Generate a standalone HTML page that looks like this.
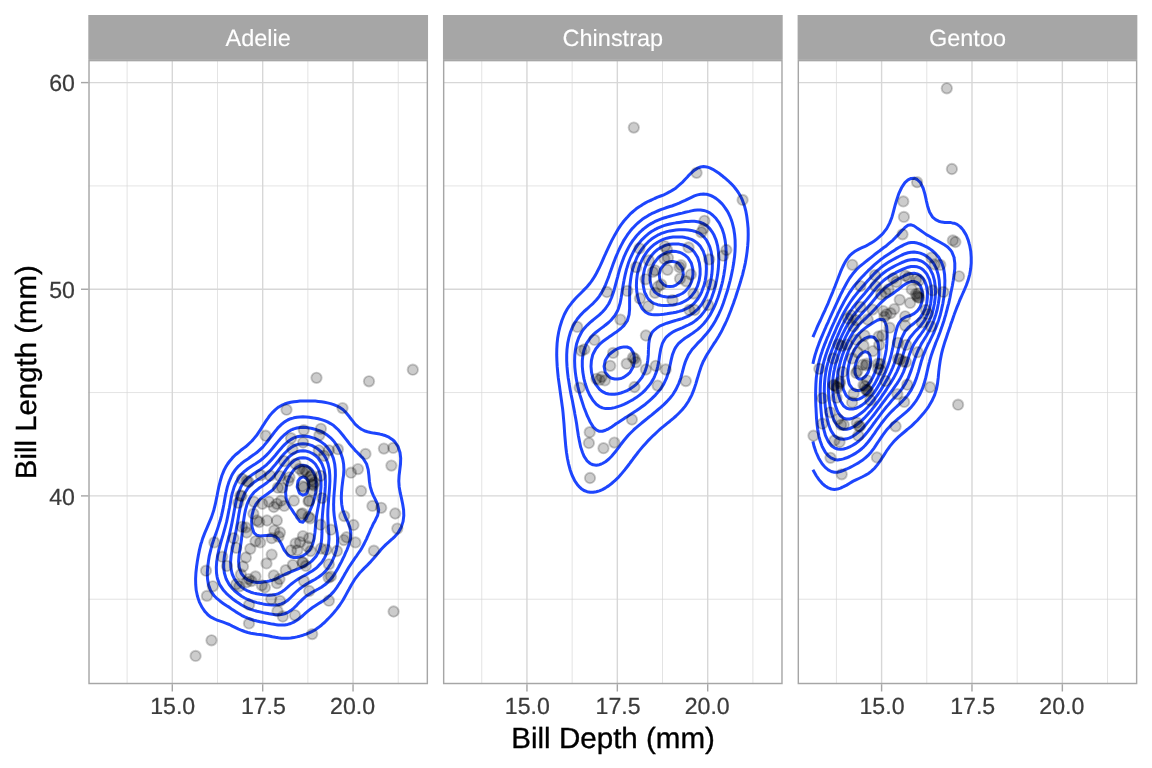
<!DOCTYPE html><html><head><meta charset="utf-8"><title>Penguins</title><style>html,body{margin:0;padding:0;background:#fff}body{width:1152px;height:768px;overflow:hidden}svg{display:block;will-change:transform}text{font-family:"Liberation Sans",sans-serif;text-rendering:geometricPrecision}</style></head><body><svg width="1152" height="768" viewBox="0 0 1152 768">
<rect width="1152" height="768" fill="#fff"/>
<clipPath id="c0"><rect x="88.3" y="59.9" width="339.75" height="624.3000000000001"/></clipPath>
<g clip-path="url(#c0)">
<path d="M127.11 59.9V684.2M217.49 59.9V684.2M307.86 59.9V684.2M398.24 59.9V684.2M88.3 599.23H428.05M88.3 392.57H428.05M88.3 185.92H428.05" stroke="#d7d7d7" stroke-width="0.71" fill="none"/>
<path d="M172.30 59.9V684.2M262.68 59.9V684.2M353.05 59.9V684.2M88.3 495.90H428.05M88.3 289.25H428.05M88.3 82.60H428.05" stroke="#d7d7d7" stroke-width="1.42" fill="none"/>
<path d="M270.2 636.2L272.3 636.7L275.4 637.3L278.4 637.8L281.5 638.2L284.6 638.3L287.7 638.3L290.7 638.1L293.8 637.6L296.9 636.9L299.6 636.2L299.9 636.1L303.0 635.2L306.1 634.1L309.1 632.9L312.2 631.4L313.9 630.5L315.3 629.7L318.3 627.6L321.4 625.2L321.9 624.7L324.5 622.5L327.5 619.4L327.9 619.0L330.6 616.3L333.3 613.2L333.7 612.8L336.7 609.1L337.9 607.5L339.8 605.0L341.9 601.8L342.9 600.2L345.3 596.0L345.9 594.9L348.4 590.3L349.0 589.3L351.6 584.5L352.1 583.7L355.1 578.8L355.1 578.8L358.2 574.8L359.6 573.0L361.3 571.3L364.3 568.1L365.1 567.3L367.4 565.1L370.5 561.9L370.8 561.6L373.5 558.6L375.9 555.8L376.6 554.9L379.7 551.2L380.6 550.1L382.7 547.8L385.8 544.6L386.1 544.3L388.9 541.9L391.9 539.2L392.6 538.6L395.0 536.3L398.0 532.9L398.1 532.7L401.1 527.5L401.3 527.1L403.1 521.4L403.8 515.6L403.6 509.9L402.7 504.2L401.5 498.4L401.1 496.7L400.2 492.7L399.2 486.9L398.8 481.2L399.1 475.5L399.8 469.7L400.5 464.0L400.7 458.2L400.0 452.5L398.1 446.8L398.1 446.6L395.0 442.0L394.1 441.0L391.9 439.2L388.9 437.2L385.8 435.8L384.2 435.3L382.7 434.8L379.7 434.1L376.6 433.6L373.5 433.1L370.5 432.5L367.4 431.7L364.3 430.7L361.9 429.5L361.3 429.2L358.2 426.9L355.1 424.1L354.9 423.8L352.1 420.2L350.3 418.1L349.0 416.2L345.9 412.5L345.7 412.3L342.9 409.5L339.8 407.4L338.2 406.6L336.7 405.8L333.7 404.6L330.6 403.6L327.5 402.9L324.5 402.3L321.4 401.8L318.3 401.4L315.3 401.1L312.2 400.9L309.1 400.9L306.1 400.9L303.0 401.0L299.9 401.1L296.9 401.4L293.8 401.7L290.7 402.2L287.7 403.0L284.6 404.0L281.5 405.4L279.6 406.6L278.4 407.2L275.4 409.6L272.6 412.3L272.3 412.6L269.2 416.3L268.0 418.1L266.2 420.6L264.2 423.8L263.1 425.4L260.6 429.5L260.0 430.3L257.0 434.9L256.7 435.3L253.9 438.6L251.9 441.0L250.8 442.0L247.8 444.8L245.6 446.8L244.7 447.4L241.6 449.7L238.6 452.3L238.4 452.5L235.5 454.8L232.4 457.9L232.2 458.2L229.4 461.5L227.6 464.0L226.3 466.1L224.3 469.7L223.2 472.3L221.9 475.5L220.2 481.2L220.2 481.4L218.8 486.9L217.6 492.7L217.1 495.6L216.5 498.4L215.3 504.2L214.0 509.3L213.9 509.9L212.0 515.6L211.0 518.4L209.7 521.4L207.9 525.7L207.3 527.1L204.8 532.9L204.8 532.9L202.6 538.6L201.8 541.4L200.8 544.3L199.4 550.1L198.7 553.8L198.3 555.8L197.3 561.6L196.5 567.3L195.9 573.0L195.6 578.7L195.6 578.8L195.6 579.4L195.7 584.5L196.2 590.3L197.4 596.0L198.7 600.1L199.3 601.8L201.8 606.8L202.2 607.5L204.8 611.4L206.6 613.2L207.9 614.8L211.0 617.2L214.0 618.7L214.7 619.0L217.1 620.1L220.2 621.1L223.2 622.2L226.3 623.3L229.4 624.5L229.8 624.7L232.4 626.1L235.5 627.6L238.6 629.1L241.6 630.3L242.1 630.5L244.7 631.5L247.8 632.5L250.8 633.2L253.9 633.7L257.0 634.2L260.0 634.6L263.1 635.0L266.2 635.5L269.2 636.0ZM276.2 624.7L278.4 625.0L281.5 625.1L284.6 625.0L286.0 624.7L287.7 624.4L290.7 623.5L293.8 622.1L296.9 620.3L298.7 619.0L299.9 618.0L303.0 615.5L305.5 613.2L306.1 612.7L309.1 610.1L312.2 607.7L312.5 607.5L315.3 605.7L318.3 603.8L321.4 601.9L321.6 601.8L324.5 600.0L327.5 597.7L329.3 596.0L330.6 594.9L333.7 591.6L334.7 590.3L336.7 587.6L338.7 584.5L339.8 582.9L342.2 578.8L342.9 577.6L345.4 573.0L345.9 572.2L348.8 567.3L349.0 567.0L352.1 562.3L352.6 561.6L355.1 557.9L356.7 555.8L358.2 553.5L360.6 550.1L361.3 548.9L363.9 544.3L364.3 543.4L366.7 538.6L367.4 536.8L369.2 532.9L370.5 529.7L371.8 527.1L373.5 523.3L374.8 521.4L376.6 517.4L377.6 515.6L378.7 509.9L377.5 504.2L376.6 502.2L374.8 498.4L373.5 495.8L372.1 492.7L370.5 487.5L370.3 486.9L369.4 481.2L368.9 475.5L368.2 469.7L367.4 466.8L366.6 464.0L364.3 460.3L363.0 458.2L361.3 456.6L358.2 453.4L357.4 452.5L355.1 450.3L352.1 446.8L352.0 446.8L349.0 443.2L347.4 441.0L345.9 439.1L342.9 435.3L342.9 435.2L339.8 431.5L338.0 429.5L336.7 428.3L333.7 425.6L330.9 423.8L330.6 423.6L327.5 421.9L324.5 420.6L321.4 419.6L318.3 418.8L315.3 418.2L314.3 418.1L312.2 417.7L309.1 417.2L306.1 416.9L303.0 416.8L299.9 416.9L296.9 417.2L293.8 417.8L292.9 418.1L290.7 418.7L287.7 420.0L284.6 421.9L282.2 423.8L281.5 424.3L278.4 427.3L276.6 429.5L275.4 430.9L272.3 435.0L272.1 435.3L269.2 439.0L267.7 441.0L266.2 442.9L263.1 446.6L263.0 446.8L260.0 449.6L257.0 452.4L256.8 452.5L253.9 454.6L250.8 456.7L248.8 458.2L247.8 458.9L244.7 460.9L241.6 463.4L240.9 464.0L238.6 466.1L235.5 469.6L235.4 469.7L232.4 474.2L231.7 475.5L229.4 480.8L229.2 481.2L227.4 486.9L226.3 491.6L226.0 492.7L224.9 498.4L223.9 504.2L223.2 507.7L222.8 509.9L221.5 515.6L220.2 520.6L219.9 521.4L218.1 527.1L217.1 530.1L216.1 532.9L214.1 538.6L214.0 538.9L212.2 544.3L211.0 549.0L210.7 550.1L209.3 555.8L208.4 561.6L207.9 565.5L207.7 567.3L207.3 573.0L207.5 578.8L207.9 581.3L208.4 584.5L210.5 590.3L211.0 591.1L214.0 595.6L214.4 596.0L217.1 598.7L220.2 601.2L220.9 601.8L223.2 603.4L226.3 605.5L229.4 607.4L229.5 607.5L232.4 609.6L235.5 611.6L238.2 613.2L238.6 613.5L241.6 615.3L244.7 616.9L247.8 618.2L250.1 619.0L250.8 619.3L253.9 620.2L257.0 621.0L260.0 621.7L263.1 622.3L266.2 622.9L269.2 623.5L272.3 624.1L275.4 624.6ZM266.4 613.2L269.2 613.8L272.3 614.3L275.4 614.7L278.4 614.7L281.5 614.5L284.6 613.8L286.0 613.2L287.7 612.5L290.7 610.6L293.8 608.1L294.4 607.5L296.9 605.1L299.9 601.8L300.0 601.8L303.0 598.9L306.1 596.2L306.3 596.0L309.1 594.2L312.2 592.3L315.3 590.6L315.9 590.3L318.3 589.0L321.4 587.2L324.5 585.1L325.2 584.5L327.5 582.5L330.6 579.3L331.0 578.8L333.7 575.3L335.1 573.0L336.7 570.4L338.5 567.3L339.8 564.8L341.5 561.6L342.9 558.6L344.3 555.8L345.9 552.0L346.9 550.1L349.0 544.4L349.0 544.3L350.5 538.6L350.8 532.9L349.8 527.1L349.0 525.0L347.6 521.4L345.9 518.2L344.9 515.6L342.9 510.4L342.7 509.9L341.7 504.2L341.3 498.4L341.5 492.7L342.0 486.9L342.7 481.2L342.9 479.5L343.5 475.5L343.9 469.7L343.6 464.0L342.9 460.1L342.5 458.2L340.6 452.5L339.8 450.9L337.7 446.8L336.7 445.3L333.7 441.0L333.6 441.0L330.6 437.8L327.6 435.3L327.5 435.2L324.5 433.2L321.4 431.6L318.3 430.4L315.8 429.5L315.3 429.4L312.2 428.5L309.1 427.9L306.1 427.5L303.0 427.3L299.9 427.5L296.9 428.0L293.8 428.9L292.3 429.5L290.7 430.2L287.7 432.1L284.6 434.6L283.9 435.3L281.5 437.6L278.5 441.0L278.4 441.1L275.4 444.8L273.8 446.8L272.3 448.6L269.2 452.2L269.0 452.5L266.2 455.4L263.2 458.2L263.1 458.3L260.0 460.7L257.0 462.8L255.2 464.0L253.9 464.8L250.8 466.7L247.8 468.8L246.6 469.7L244.7 471.2L241.6 474.2L240.5 475.5L238.6 478.1L236.7 481.2L235.5 483.8L234.2 486.9L232.5 492.7L232.4 492.7L231.1 498.4L230.1 504.2L229.4 508.0L229.0 509.9L227.9 515.6L226.7 521.4L226.3 523.0L225.2 527.1L223.6 532.9L223.2 534.3L221.9 538.6L220.3 544.3L220.2 544.8L218.8 550.1L217.6 555.8L217.1 559.1L216.7 561.6L216.3 567.3L216.5 573.0L217.1 576.8L217.5 578.8L219.6 584.5L220.2 585.4L223.2 589.9L223.5 590.3L226.3 593.3L229.2 596.0L229.4 596.1L232.4 598.7L235.5 601.0L236.6 601.8L238.6 603.1L241.6 605.0L244.7 606.7L246.5 607.5L247.8 608.1L250.8 609.4L253.9 610.4L257.0 611.2L260.0 611.9L263.1 612.6L266.2 613.2ZM253.9 601.8L253.9 601.8L257.0 602.6L260.0 603.3L263.1 603.9L266.2 604.4L269.2 604.8L272.3 605.1L275.4 605.1L278.4 604.7L281.5 603.9L284.6 602.4L285.6 601.8L287.7 600.3L290.7 597.5L292.2 596.0L293.8 594.4L296.9 591.3L298.0 590.3L299.9 588.7L303.0 586.4L305.8 584.5L306.1 584.3L309.1 582.6L312.2 580.9L315.3 579.2L315.9 578.8L318.3 577.3L321.4 575.0L323.6 573.0L324.5 572.2L327.5 568.7L328.5 567.3L330.6 564.0L332.0 561.6L333.7 557.7L334.5 555.8L336.3 550.1L336.7 547.6L337.4 544.3L337.6 538.6L337.1 532.9L336.7 530.9L336.1 527.1L335.0 521.4L334.2 515.6L333.7 509.9L333.7 507.5L333.6 504.2L333.7 502.8L333.8 498.4L334.2 492.7L334.7 486.9L335.1 481.2L335.4 475.5L335.3 469.7L334.7 464.0L333.7 459.6L333.3 458.2L330.9 452.5L330.6 452.0L327.5 447.6L326.8 446.8L324.5 444.4L321.4 442.1L319.7 441.0L318.3 440.2L315.3 438.7L312.2 437.6L309.1 436.8L306.1 436.3L303.0 436.1L299.9 436.3L296.9 436.8L293.8 437.9L290.7 439.6L288.8 441.0L287.7 441.8L284.6 444.6L282.5 446.8L281.5 447.9L278.4 451.5L277.6 452.5L275.4 455.2L272.8 458.2L272.3 458.9L269.2 462.1L267.3 464.0L266.2 465.1L263.1 467.5L260.0 469.7L260.0 469.7L257.0 471.6L253.9 473.6L251.1 475.5L250.8 475.6L247.8 478.1L244.7 481.2L244.7 481.2L241.6 485.6L240.9 486.9L238.6 492.4L238.5 492.7L236.8 498.4L235.5 504.1L235.5 504.2L234.4 509.9L233.4 515.6L232.4 520.7L232.3 521.4L231.1 527.1L229.8 532.9L229.4 534.7L228.4 538.6L226.9 544.3L226.3 547.0L225.6 550.1L224.5 555.8L223.8 561.6L223.7 567.3L224.4 573.0L226.1 578.8L226.3 579.3L229.2 584.5L229.4 584.8L232.4 588.5L234.1 590.3L235.5 591.5L238.6 594.0L241.3 596.0L241.6 596.2L244.7 598.0L247.8 599.5L250.8 600.7ZM246.5 590.3L247.8 590.9L250.8 592.2L253.9 593.1L257.0 593.8L260.0 594.3L263.1 594.7L266.2 595.0L269.2 595.2L272.3 595.1L275.4 594.6L278.4 593.6L281.5 592.0L284.0 590.3L284.6 589.8L287.7 587.2L290.7 584.5L290.7 584.5L293.8 582.1L296.9 579.9L298.6 578.8L299.9 578.0L303.0 576.3L306.1 574.6L308.8 573.0L309.1 572.8L312.2 571.0L315.3 568.8L317.1 567.3L318.3 566.1L321.4 562.7L322.3 561.6L324.5 557.9L325.6 555.8L327.5 550.2L327.6 550.1L328.6 544.3L329.0 538.6L328.8 532.9L328.3 527.1L328.0 521.4L327.8 515.6L327.9 509.9L328.3 504.2L328.7 498.4L329.2 492.7L329.6 486.9L329.9 481.2L329.8 475.5L329.3 469.7L328.1 464.0L327.5 462.3L325.9 458.2L324.5 455.9L321.9 452.5L321.4 452.0L318.3 449.3L315.3 447.3L314.3 446.8L312.2 445.7L309.1 444.6L306.1 444.0L303.0 443.7L299.9 443.9L296.9 444.6L293.8 445.9L292.3 446.8L290.7 447.8L287.7 450.2L285.4 452.5L284.6 453.3L281.5 456.8L280.4 458.2L278.4 460.7L275.8 464.0L275.4 464.5L272.3 468.1L270.8 469.7L269.2 471.3L266.2 474.0L264.1 475.5L263.1 476.2L260.0 478.3L257.0 480.2L255.5 481.2L253.9 482.4L250.8 485.0L248.9 486.9L247.8 488.3L245.0 492.7L244.7 493.3L242.6 498.4L241.6 501.5L240.9 504.2L239.7 509.9L238.6 515.6L238.6 516.0L237.7 521.4L236.7 527.1L235.7 532.9L235.5 533.6L234.5 538.6L233.3 544.3L232.4 548.4L232.1 550.1L231.1 555.8L230.6 561.6L230.8 567.3L231.9 573.0L232.4 574.5L234.4 578.8L235.5 580.5L238.6 584.4L238.7 584.5L241.6 587.1L244.7 589.3ZM246.0 578.8L247.8 579.9L250.8 581.2L253.9 582.0L257.0 582.4L260.0 582.4L263.1 582.1L266.2 581.6L269.2 581.0L272.3 580.2L275.4 579.1L276.2 578.8L278.4 577.6L281.5 576.0L284.6 574.5L287.7 573.2L287.9 573.0L290.7 571.9L293.8 570.6L296.9 569.4L299.9 568.1L301.7 567.3L303.0 566.7L306.1 565.0L309.1 563.1L311.1 561.6L312.2 560.6L315.3 557.3L316.4 555.8L318.3 552.3L319.3 550.1L321.0 544.3L321.4 541.3L321.7 538.6L322.0 532.9L322.0 527.1L322.1 521.4L322.4 515.6L322.9 509.9L323.5 504.2L324.2 498.4L324.5 496.4L324.9 492.7L325.3 486.9L325.4 481.2L325.1 475.5L324.5 471.9L324.1 469.7L322.0 464.0L321.4 462.8L318.3 458.3L318.3 458.2L315.3 455.4L312.2 453.3L310.4 452.5L309.1 451.9L306.1 451.1L303.0 450.8L299.9 451.0L296.9 451.8L295.4 452.5L293.8 453.3L290.7 455.4L287.7 458.2L287.7 458.3L284.6 461.8L282.9 464.0L281.5 465.9L278.7 469.7L278.4 470.2L275.4 474.3L274.4 475.5L272.3 477.9L269.2 480.8L268.7 481.2L266.2 483.3L263.1 485.4L260.8 486.9L260.0 487.4L257.0 489.8L253.9 492.4L253.7 492.7L250.8 496.4L249.6 498.4L247.8 502.4L247.1 504.2L245.5 509.9L244.7 513.8L244.4 515.6L243.5 521.4L242.9 527.1L242.3 532.9L241.6 537.9L241.6 538.6L240.8 544.3L239.9 550.1L239.0 555.8L238.6 561.5L238.6 561.6L238.6 561.6L239.2 567.3L241.1 573.0L241.6 573.8L244.7 577.6ZM289.1 555.8L290.7 556.7L293.8 557.5L296.9 557.5L299.9 556.9L302.8 555.8L303.0 555.8L306.1 553.6L309.1 550.6L309.6 550.1L312.2 545.3L312.6 544.3L314.1 538.6L314.9 532.9L315.3 528.5L315.4 527.1L315.9 521.4L316.6 515.6L317.6 509.9L318.3 506.4L318.7 504.2L319.7 498.4L320.5 492.7L321.0 486.9L321.0 481.2L320.3 475.5L318.6 469.7L318.3 469.1L315.3 464.0L315.3 464.0L312.2 461.1L309.1 459.2L306.5 458.2L306.1 458.1L303.0 457.7L299.9 458.0L299.0 458.2L296.9 459.0L293.8 460.8L290.7 463.5L290.2 464.0L287.7 467.2L285.8 469.7L284.6 471.8L282.4 475.5L281.5 477.2L279.1 481.2L278.4 482.4L275.4 486.7L275.2 486.9L272.3 490.2L269.2 492.5L269.0 492.7L266.2 494.8L263.1 496.9L261.0 498.4L260.0 499.4L257.0 502.8L256.0 504.2L253.9 508.5L253.4 509.9L252.0 515.6L251.6 521.4L252.1 527.1L253.9 532.7L254.0 532.9L257.0 535.3L260.0 535.9L263.1 535.7L266.2 535.5L269.2 535.3L272.3 535.6L275.4 536.6L278.0 538.6L278.4 539.1L281.5 544.3L281.5 544.3L284.2 550.1L284.6 550.7L287.7 554.7ZM299.9 521.4L299.9 521.5L303.0 522.2L303.4 521.4L306.1 518.6L307.3 515.6L309.1 512.8L310.2 509.9L312.2 505.5L312.6 504.2L314.4 498.4L315.3 494.7L315.6 492.7L316.2 486.9L316.1 481.2L315.3 477.2L314.8 475.5L312.2 470.4L311.7 469.7L309.1 467.5L306.1 465.9L303.0 465.3L299.9 465.8L296.9 467.3L293.9 469.7L293.8 469.8L290.7 474.3L290.0 475.5L287.7 481.2L287.7 481.4L286.3 486.9L285.6 492.7L286.1 498.4L287.7 502.6L288.3 504.2L290.7 508.0L292.0 509.9L293.8 512.8L295.9 515.6L296.9 517.6ZM299.3 492.7L299.9 493.5L303.0 495.2L306.1 494.1L307.0 492.7L309.0 486.9L308.3 481.2L306.1 478.0L303.0 476.7L299.9 478.4L298.0 481.2L297.2 486.9Z" stroke="#1D45FD" stroke-width="3.0" fill="none" stroke-linejoin="round" stroke-linecap="butt"/>
<g fill="#000" fill-opacity="0.2" stroke="#000" stroke-opacity="0.2" stroke-width="1.89">
<circle cx="286.5" cy="409.7" r="5.2"/>
<circle cx="265.6" cy="435.7" r="5.2"/>
<circle cx="303.8" cy="430.1" r="5.2"/>
<circle cx="320.9" cy="428.8" r="5.2"/>
<circle cx="319.4" cy="435.1" r="5.2"/>
<circle cx="291.0" cy="438.2" r="5.2"/>
<circle cx="303.1" cy="442.5" r="5.2"/>
<circle cx="292.5" cy="449.1" r="5.2"/>
<circle cx="318.8" cy="450.3" r="5.2"/>
<circle cx="316.5" cy="377.8" r="5.2"/>
<circle cx="369.0" cy="381.3" r="5.2"/>
<circle cx="412.8" cy="369.7" r="5.2"/>
<circle cx="342.5" cy="408.1" r="5.2"/>
<circle cx="337.9" cy="449.2" r="5.2"/>
<circle cx="328.9" cy="450.3" r="5.2"/>
<circle cx="365.5" cy="453.9" r="5.2"/>
<circle cx="383.9" cy="448.6" r="5.2"/>
<circle cx="393.2" cy="447.9" r="5.2"/>
<circle cx="391.4" cy="465.6" r="5.2"/>
<circle cx="358.0" cy="469.1" r="5.2"/>
<circle cx="351.0" cy="472.7" r="5.2"/>
<circle cx="361.1" cy="490.9" r="5.2"/>
<circle cx="372.4" cy="505.9" r="5.2"/>
<circle cx="381.2" cy="507.8" r="5.2"/>
<circle cx="395.2" cy="513.5" r="5.2"/>
<circle cx="397.3" cy="528.6" r="5.2"/>
<circle cx="344.2" cy="516.1" r="5.2"/>
<circle cx="353.5" cy="525.0" r="5.2"/>
<circle cx="322.1" cy="498.1" r="5.2"/>
<circle cx="330.9" cy="529.7" r="5.2"/>
<circle cx="346.6" cy="537.2" r="5.2"/>
<circle cx="343.8" cy="540.1" r="5.2"/>
<circle cx="355.4" cy="542.4" r="5.2"/>
<circle cx="373.9" cy="550.7" r="5.2"/>
<circle cx="337.0" cy="551.0" r="5.2"/>
<circle cx="326.2" cy="549.7" r="5.2"/>
<circle cx="321.0" cy="548.6" r="5.2"/>
<circle cx="328.9" cy="564.3" r="5.2"/>
<circle cx="330.9" cy="576.4" r="5.2"/>
<circle cx="328.9" cy="600.7" r="5.2"/>
<circle cx="393.6" cy="611.5" r="5.2"/>
<circle cx="242.0" cy="478.8" r="5.2"/>
<circle cx="246.7" cy="480.9" r="5.2"/>
<circle cx="260.7" cy="475.2" r="5.2"/>
<circle cx="270.1" cy="475.7" r="5.2"/>
<circle cx="280.0" cy="476.2" r="5.2"/>
<circle cx="288.3" cy="480.9" r="5.2"/>
<circle cx="306.6" cy="471.5" r="5.2"/>
<circle cx="310.2" cy="476.8" r="5.2"/>
<circle cx="312.3" cy="484.1" r="5.2"/>
<circle cx="277.9" cy="487.7" r="5.2"/>
<circle cx="282.1" cy="487.7" r="5.2"/>
<circle cx="302.4" cy="486.1" r="5.2"/>
<circle cx="240.4" cy="495.5" r="5.2"/>
<circle cx="238.3" cy="502.8" r="5.2"/>
<circle cx="254.0" cy="501.8" r="5.2"/>
<circle cx="262.3" cy="503.8" r="5.2"/>
<circle cx="269.1" cy="501.8" r="5.2"/>
<circle cx="273.8" cy="507.0" r="5.2"/>
<circle cx="276.9" cy="503.8" r="5.2"/>
<circle cx="281.0" cy="500.7" r="5.2"/>
<circle cx="284.2" cy="505.9" r="5.2"/>
<circle cx="293.9" cy="500.7" r="5.2"/>
<circle cx="309.2" cy="500.7" r="5.2"/>
<circle cx="301.4" cy="514.3" r="5.2"/>
<circle cx="310.2" cy="518.4" r="5.2"/>
<circle cx="253.4" cy="513.7" r="5.2"/>
<circle cx="257.1" cy="520.5" r="5.2"/>
<circle cx="259.2" cy="522.1" r="5.2"/>
<circle cx="267.0" cy="520.5" r="5.2"/>
<circle cx="276.9" cy="520.5" r="5.2"/>
<circle cx="320.6" cy="524.7" r="5.2"/>
<circle cx="242.0" cy="526.8" r="5.2"/>
<circle cx="246.7" cy="532.5" r="5.2"/>
<circle cx="274.3" cy="530.4" r="5.2"/>
<circle cx="280.0" cy="532.5" r="5.2"/>
<circle cx="271.7" cy="538.2" r="5.2"/>
<circle cx="233.6" cy="538.2" r="5.2"/>
<circle cx="214.4" cy="542.4" r="5.2"/>
<circle cx="255.5" cy="541.3" r="5.2"/>
<circle cx="260.2" cy="542.4" r="5.2"/>
<circle cx="302.9" cy="536.1" r="5.2"/>
<circle cx="309.2" cy="538.2" r="5.2"/>
<circle cx="295.6" cy="543.4" r="5.2"/>
<circle cx="236.2" cy="547.8" r="5.2"/>
<circle cx="250.3" cy="548.8" r="5.2"/>
<circle cx="245.9" cy="557.5" r="5.2"/>
<circle cx="243.0" cy="566.5" r="5.2"/>
<circle cx="222.2" cy="556.7" r="5.2"/>
<circle cx="226.9" cy="566.0" r="5.2"/>
<circle cx="271.7" cy="554.6" r="5.2"/>
<circle cx="266.5" cy="563.4" r="5.2"/>
<circle cx="285.7" cy="570.2" r="5.2"/>
<circle cx="273.8" cy="575.4" r="5.2"/>
<circle cx="279.5" cy="579.1" r="5.2"/>
<circle cx="276.9" cy="583.2" r="5.2"/>
<circle cx="255.5" cy="576.4" r="5.2"/>
<circle cx="240.9" cy="574.4" r="5.2"/>
<circle cx="248.8" cy="579.1" r="5.2"/>
<circle cx="246.7" cy="582.2" r="5.2"/>
<circle cx="251.4" cy="581.1" r="5.2"/>
<circle cx="236.2" cy="584.3" r="5.2"/>
<circle cx="239.4" cy="586.3" r="5.2"/>
<circle cx="261.8" cy="585.3" r="5.2"/>
<circle cx="264.9" cy="587.4" r="5.2"/>
<circle cx="212.8" cy="586.3" r="5.2"/>
<circle cx="206.0" cy="570.7" r="5.2"/>
<circle cx="304.0" cy="581.1" r="5.2"/>
<circle cx="309.2" cy="591.0" r="5.2"/>
<circle cx="278.6" cy="536.6" r="5.2"/>
<circle cx="291.1" cy="550.3" r="5.2"/>
<circle cx="297.3" cy="550.3" r="5.2"/>
<circle cx="310.6" cy="551.1" r="5.2"/>
<circle cx="302.8" cy="562.8" r="5.2"/>
<circle cx="305.9" cy="565.9" r="5.2"/>
<circle cx="328.6" cy="577.6" r="5.2"/>
<circle cx="206.9" cy="595.9" r="5.2"/>
<circle cx="249.1" cy="604.7" r="5.2"/>
<circle cx="271.2" cy="599.1" r="5.2"/>
<circle cx="280.0" cy="600.9" r="5.2"/>
<circle cx="277.5" cy="610.9" r="5.2"/>
<circle cx="282.8" cy="616.5" r="5.2"/>
<circle cx="295.0" cy="615.3" r="5.2"/>
<circle cx="249.0" cy="623.4" r="5.2"/>
<circle cx="312.2" cy="634.1" r="5.2"/>
<circle cx="211.5" cy="640.3" r="5.2"/>
<circle cx="195.6" cy="655.9" r="5.2"/>
<circle cx="302.5" cy="513.3" r="5.2"/>
<circle cx="307.6" cy="546.5" r="5.2"/>
<circle cx="313.5" cy="485.3" r="5.2"/>
<circle cx="308.5" cy="501.3" r="5.2"/>
<circle cx="311.5" cy="475.3" r="5.2"/>
<circle cx="312.5" cy="490.8" r="5.2"/>
<circle cx="304.5" cy="469.8" r="5.2"/>
<circle cx="289.5" cy="477.3" r="5.2"/>
<circle cx="284.1" cy="461.2" r="5.2"/>
<circle cx="320.5" cy="475.8" r="5.2"/>
<circle cx="324.0" cy="455.8" r="5.2"/>
<circle cx="311.8" cy="479.8" r="5.2"/>
<circle cx="303.8" cy="487.3" r="5.2"/>
<circle cx="300.0" cy="542.2" r="5.2"/>
<circle cx="245.7" cy="527.4" r="5.2"/>
<circle cx="302.5" cy="471.8" r="5.2"/>
<circle cx="314.5" cy="482.3" r="5.2"/>
<circle cx="295.5" cy="463.8" r="5.2"/>
<circle cx="302.5" cy="562.1" r="5.2"/>
<circle cx="241.5" cy="496.1" r="5.2"/>
<circle cx="248.5" cy="481.8" r="5.2"/>
<circle cx="308.5" cy="516.8" r="5.2"/>
<circle cx="292.8" cy="564.9" r="5.2"/>
<circle cx="299.5" cy="468.8" r="5.2"/>
</g>
<rect x="88.3" y="59.9" width="339.75" height="624.3000000000001" fill="none" stroke="#a6a6a6" stroke-width="2.85"/>
</g>
<rect x="88.3" y="15.0" width="339.75" height="44.9" fill="#a6a6a6"/>
<text transform="translate(258.18,46.05) scale(1.0,1.0)" text-anchor="middle" font-size="23.47" fill="#fff" stroke="#fff" stroke-width="0.12">Adelie</text>
<path d="M172.30 684.2v7.3" stroke="#a6a6a6" stroke-width="1.42"/>
<text transform="translate(172.70,713.60) scale(0.985,0.995)" text-anchor="middle" font-size="23.47" fill="#3b3b3b" stroke="#3b3b3b" stroke-width="0.25">15.0</text>
<path d="M262.68 684.2v7.3" stroke="#a6a6a6" stroke-width="1.42"/>
<text transform="translate(263.38,713.60) scale(0.985,0.995)" text-anchor="middle" font-size="23.47" fill="#3b3b3b" stroke="#3b3b3b" stroke-width="0.25">17.5</text>
<path d="M353.05 684.2v7.3" stroke="#a6a6a6" stroke-width="1.42"/>
<text transform="translate(352.55,713.60) scale(0.985,0.995)" text-anchor="middle" font-size="23.47" fill="#3b3b3b" stroke="#3b3b3b" stroke-width="0.25">20.0</text>
<clipPath id="c1"><rect x="442.95" y="59.9" width="339.75" height="624.3000000000001"/></clipPath>
<g clip-path="url(#c1)">
<path d="M481.76 59.9V684.2M572.14 59.9V684.2M662.51 59.9V684.2M752.89 59.9V684.2M442.95 599.23H782.7M442.95 392.57H782.7M442.95 185.92H782.7" stroke="#d7d7d7" stroke-width="0.71" fill="none"/>
<path d="M526.95 59.9V684.2M617.33 59.9V684.2M707.70 59.9V684.2M442.95 495.90H782.7M442.95 289.25H782.7M442.95 82.60H782.7" stroke="#d7d7d7" stroke-width="1.42" fill="none"/>
<path d="M579.4 486.9L581.0 488.4L584.0 490.5L587.1 491.7L590.2 492.3L593.2 492.3L596.3 491.8L599.4 490.9L602.4 489.6L605.5 487.9L606.9 486.9L608.6 485.9L611.6 483.5L614.3 481.2L614.7 480.8L617.8 477.9L620.0 475.5L620.8 474.6L623.9 470.9L624.9 469.7L627.0 467.0L629.3 464.0L630.0 463.0L633.1 458.8L633.5 458.2L636.2 454.8L637.9 452.5L639.2 450.9L642.3 447.1L642.6 446.8L645.4 443.7L647.8 441.0L648.4 440.4L651.5 437.3L653.5 435.3L654.6 434.3L657.6 431.5L659.7 429.5L660.7 428.7L663.8 426.2L666.6 423.8L666.8 423.6L669.9 421.2L673.0 418.6L673.6 418.1L676.0 416.0L679.1 413.0L679.8 412.3L682.2 409.8L684.8 406.6L685.2 406.1L688.3 401.5L688.7 400.8L691.4 395.7L691.7 395.1L694.0 389.4L694.4 388.1L695.9 383.6L697.5 378.0L697.6 377.9L699.3 372.1L700.6 368.2L701.2 366.4L703.6 360.7L703.7 360.7L706.7 355.0L706.8 354.9L709.8 350.2L710.4 349.2L712.8 345.5L714.1 343.4L715.9 340.8L717.8 337.7L719.0 335.7L721.1 332.0L722.1 330.1L724.0 326.2L725.1 324.0L726.7 320.5L728.2 317.0L729.1 314.7L731.3 309.2L731.3 309.0L733.5 303.3L734.3 300.7L735.5 297.5L737.3 291.8L737.4 291.6L739.2 286.0L740.5 281.8L740.9 280.3L742.6 274.6L743.5 270.6L744.0 268.8L745.3 263.1L746.3 257.3L746.6 255.3L747.1 251.6L747.7 245.9L748.1 240.1L748.2 234.4L748.1 228.6L747.6 222.9L746.9 217.2L746.6 215.3L745.9 211.4L744.4 205.7L743.5 203.3L742.3 199.9L740.5 196.2L739.4 194.2L737.4 191.1L735.4 188.5L734.3 187.1L731.3 183.8L730.1 182.7L728.2 180.8L725.1 178.2L723.6 177.0L722.1 175.7L719.0 173.3L715.9 171.2L715.9 171.2L712.8 169.3L709.8 167.9L706.7 166.9L703.6 166.6L700.6 167.0L697.5 168.2L694.4 170.2L693.3 171.2L691.4 172.8L688.3 175.9L687.4 177.0L685.2 179.2L682.2 182.5L682.0 182.7L679.1 185.2L676.0 187.9L675.3 188.5L673.0 189.9L669.9 191.7L666.8 193.3L665.2 194.2L663.8 194.8L660.7 196.0L657.6 197.2L654.6 198.5L651.7 199.9L651.5 200.0L648.4 201.3L645.4 202.9L642.3 204.7L640.9 205.7L639.2 206.7L636.2 208.8L633.2 211.4L633.1 211.5L630.0 214.2L627.3 217.2L627.0 217.5L623.9 221.0L622.5 222.9L620.8 225.2L618.5 228.6L617.8 229.8L615.1 234.4L614.7 235.1L612.0 240.1L611.6 240.9L609.2 245.9L608.6 247.2L606.5 251.6L605.5 253.9L603.9 257.3L602.4 260.8L601.4 263.1L599.4 267.5L598.7 268.8L596.3 273.5L595.7 274.6L593.2 278.7L592.1 280.3L590.2 283.0L587.7 286.0L587.1 286.7L584.0 289.9L582.2 291.8L581.0 293.0L577.9 296.0L576.4 297.5L574.8 299.2L571.8 302.7L571.4 303.3L568.7 306.9L567.3 309.0L565.6 312.0L564.2 314.7L562.6 318.7L561.9 320.5L560.1 326.2L559.5 328.7L558.7 332.0L557.7 337.7L557.1 343.4L556.8 349.2L556.7 354.9L556.9 360.7L557.2 366.4L557.7 372.1L558.3 377.9L559.1 383.6L559.5 386.3L559.9 389.4L560.7 395.1L561.5 400.8L562.3 406.6L562.6 408.6L563.0 412.3L563.5 418.1L564.0 423.8L564.4 429.5L564.8 435.3L565.3 441.0L565.6 444.5L565.8 446.8L566.5 452.5L567.4 458.2L568.6 464.0L568.7 464.4L570.1 469.7L571.8 474.4L572.2 475.5L574.8 480.9L575.0 481.2L577.9 485.3ZM591.2 464.0L593.2 464.8L596.3 465.2L599.4 464.7L601.3 464.0L602.4 463.5L605.5 461.7L608.6 459.3L609.6 458.2L611.6 456.2L614.7 452.6L614.8 452.5L617.8 448.6L619.2 446.8L620.8 444.5L623.5 441.0L623.9 440.5L627.0 436.8L628.3 435.3L630.0 433.5L633.1 430.5L634.0 429.5L636.2 427.7L639.2 425.1L640.7 423.8L642.3 422.5L645.4 420.0L647.7 418.1L648.4 417.5L651.5 415.1L654.6 412.5L654.8 412.3L657.6 410.0L660.7 407.4L661.6 406.6L663.8 404.6L666.8 401.6L667.6 400.8L669.9 398.2L672.4 395.1L673.0 394.3L676.0 389.4L676.0 389.4L678.7 383.6L679.1 382.6L680.8 377.9L682.2 372.9L682.4 372.1L683.9 366.4L685.2 362.2L685.8 360.7L688.3 355.1L688.4 354.9L691.4 350.5L692.3 349.2L694.4 346.9L697.5 343.4L697.5 343.4L700.6 340.4L703.0 337.7L703.6 337.0L706.7 333.5L707.9 332.0L709.8 329.6L712.1 326.2L712.8 325.1L715.6 320.5L715.9 319.8L718.5 314.7L719.0 313.7L721.1 309.0L722.1 306.5L723.3 303.3L725.1 297.9L725.2 297.5L727.1 291.8L728.2 287.8L728.7 286.0L730.2 280.3L731.3 275.7L731.5 274.6L732.7 268.8L733.7 263.1L734.3 258.3L734.5 257.3L735.0 251.6L735.2 245.9L735.1 240.1L734.6 234.4L734.3 232.5L733.7 228.6L732.3 222.9L731.3 219.7L730.3 217.2L728.2 212.7L727.5 211.4L725.1 207.8L723.5 205.7L722.1 203.9L719.0 200.9L717.8 199.9L715.9 198.4L712.8 196.5L709.8 195.2L706.7 194.3L705.3 194.2L703.6 194.0L701.3 194.2L700.6 194.2L697.5 194.9L694.4 195.9L691.4 197.3L688.3 198.8L686.2 199.9L685.2 200.4L682.2 201.7L679.1 203.1L676.0 204.3L673.0 205.5L672.7 205.7L669.9 206.5L666.8 207.5L663.8 208.6L660.7 209.7L657.6 211.0L656.7 211.4L654.6 212.3L651.5 213.7L648.4 215.4L645.6 217.2L645.4 217.3L642.3 219.3L639.2 221.8L638.0 222.9L636.2 224.5L633.1 227.7L632.3 228.6L630.0 231.3L627.7 234.4L627.0 235.5L624.0 240.1L623.9 240.3L620.9 245.9L620.8 246.0L618.1 251.6L617.8 252.5L615.7 257.3L614.7 260.0L613.5 263.1L611.6 268.4L611.5 268.8L609.4 274.6L608.6 277.1L607.3 280.3L605.5 284.9L605.0 286.0L602.4 291.3L602.1 291.8L599.4 296.1L598.4 297.5L596.3 300.0L593.2 303.3L593.2 303.3L590.2 306.0L587.1 308.8L586.9 309.0L584.0 311.5L581.0 314.6L580.8 314.7L577.9 318.2L576.3 320.5L574.8 322.7L572.9 326.2L571.8 328.9L570.5 332.0L568.9 337.7L568.7 338.6L567.7 343.4L567.0 349.2L566.7 354.9L566.7 360.7L567.0 366.4L567.5 372.1L568.2 377.9L568.7 380.8L569.1 383.6L570.1 389.4L571.2 395.1L571.8 397.8L572.4 400.8L573.5 406.6L574.6 412.3L574.8 413.7L575.6 418.1L576.6 423.8L577.4 429.5L577.9 432.6L578.3 435.3L579.4 441.0L580.6 446.8L581.0 447.9L582.5 452.5L584.0 456.1L585.3 458.2L587.1 460.8L590.2 463.5ZM596.0 429.5L596.3 429.8L599.4 431.3L602.4 431.3L605.5 430.3L606.9 429.5L608.6 428.8L611.6 426.9L614.7 424.8L616.0 423.8L617.8 422.7L620.8 420.7L623.9 418.7L624.8 418.1L627.0 416.7L630.0 414.8L633.1 412.8L633.8 412.3L636.2 410.8L639.2 408.7L642.2 406.6L642.3 406.5L645.4 404.2L648.4 401.6L649.3 400.8L651.5 398.9L654.6 395.9L655.4 395.1L657.6 392.6L660.3 389.4L660.7 388.7L663.8 383.9L663.9 383.6L666.6 377.9L666.8 377.2L668.5 372.1L669.8 366.4L669.9 366.0L671.0 360.7L672.4 354.9L673.0 353.3L674.6 349.2L676.0 346.9L678.6 343.4L679.1 343.0L682.2 340.4L685.2 338.0L685.7 337.7L688.3 336.1L691.4 334.1L694.3 332.0L694.4 331.9L697.5 329.6L700.6 326.8L701.2 326.2L703.6 323.7L706.2 320.5L706.7 319.9L709.8 315.4L710.2 314.7L712.8 309.8L713.3 309.0L715.8 303.3L715.9 303.0L718.0 297.5L719.0 294.4L719.8 291.8L721.4 286.0L722.1 283.3L722.8 280.3L723.9 274.6L724.8 268.8L725.1 266.4L725.5 263.1L726.0 257.3L726.1 251.6L725.8 245.9L725.1 240.3L725.1 240.1L723.9 234.4L722.1 228.8L722.0 228.6L719.2 222.9L719.0 222.6L715.9 218.3L714.8 217.2L712.8 215.2L709.8 212.9L706.7 211.4L706.7 211.4L703.6 210.4L700.6 210.0L697.5 210.0L694.4 210.3L691.4 210.9L689.3 211.4L688.3 211.6L685.2 212.3L682.2 213.1L679.1 213.8L676.0 214.6L673.0 215.4L669.9 216.2L666.8 217.1L666.7 217.2L663.8 218.0L660.7 219.1L657.6 220.3L654.6 221.7L652.5 222.9L651.5 223.4L648.4 225.3L645.4 227.5L643.9 228.6L642.3 230.0L639.2 232.9L637.8 234.4L636.2 236.3L633.2 240.1L633.1 240.2L630.0 244.9L629.4 245.9L627.0 250.5L626.4 251.6L623.9 257.2L623.9 257.3L621.7 263.1L620.8 265.8L619.8 268.8L618.2 274.6L617.8 276.3L616.7 280.3L615.2 286.0L614.7 287.9L613.6 291.8L611.6 297.5L611.6 297.5L609.0 303.3L608.6 304.0L605.5 308.5L605.1 309.0L602.4 312.0L599.6 314.7L599.4 314.9L596.3 317.4L593.2 319.9L592.5 320.5L590.2 322.4L587.1 325.3L586.2 326.2L584.0 328.7L581.7 332.0L581.0 333.3L578.7 337.7L577.9 340.0L576.7 343.4L575.5 349.2L574.8 354.9L574.8 354.9L574.6 360.7L574.8 366.4L574.8 366.9L575.3 372.1L576.1 377.9L577.2 383.6L577.9 386.9L578.5 389.4L580.0 395.1L581.0 398.3L581.8 400.8L583.7 406.6L584.0 407.5L585.9 412.3L587.1 415.5L588.4 418.1L590.2 422.0L591.3 423.8L593.2 426.9ZM599.6 406.6L602.4 407.9L605.5 408.6L608.6 408.6L611.6 408.2L614.7 407.6L617.8 406.6L617.8 406.6L620.8 405.6L623.9 404.3L627.0 402.9L630.0 401.3L630.9 400.8L633.1 399.6L636.2 397.6L639.2 395.4L639.5 395.1L642.3 392.8L645.4 389.8L645.8 389.4L648.4 386.3L650.5 383.6L651.5 382.0L653.9 377.9L654.6 376.3L656.3 372.1L657.6 367.1L657.8 366.4L658.9 360.7L659.7 354.9L660.7 349.2L660.7 349.1L662.4 343.4L663.8 340.8L665.7 337.7L666.8 336.6L669.9 334.0L672.8 332.0L673.0 331.8L676.0 330.4L679.1 329.1L682.2 327.8L685.2 326.4L685.6 326.2L688.3 325.0L691.4 323.4L694.4 321.4L695.6 320.5L697.5 319.0L700.6 316.1L701.7 314.7L703.6 312.4L706.0 309.0L706.7 307.8L709.2 303.3L709.8 301.9L711.7 297.5L712.8 294.2L713.7 291.8L715.3 286.0L715.9 283.3L716.6 280.3L717.6 274.6L718.3 268.8L718.7 263.1L718.8 257.3L718.4 251.6L717.6 245.9L716.1 240.1L715.9 239.6L713.7 234.4L712.8 232.9L709.8 228.6L709.8 228.6L706.7 225.7L703.6 223.7L701.6 222.9L700.6 222.5L697.5 221.7L694.4 221.3L691.4 221.3L688.3 221.4L685.2 221.6L682.2 222.0L679.1 222.4L676.0 222.8L675.7 222.9L673.0 223.4L669.9 224.0L666.8 224.7L663.8 225.6L660.7 226.8L657.6 228.1L656.7 228.6L654.6 229.7L651.5 231.5L648.4 233.7L647.7 234.4L645.4 236.3L642.3 239.3L641.6 240.1L639.2 242.9L637.0 245.9L636.2 247.1L633.5 251.6L633.1 252.4L630.7 257.3L630.0 259.0L628.4 263.1L627.0 267.8L626.6 268.8L625.2 274.6L624.0 280.3L623.9 281.0L623.0 286.0L622.1 291.8L621.2 297.5L620.8 299.7L620.1 303.3L618.3 309.0L617.8 310.2L615.4 314.7L614.7 315.7L611.6 319.5L610.7 320.5L608.6 322.5L605.5 325.0L604.0 326.2L602.4 327.4L599.4 329.6L596.4 332.0L596.3 332.0L593.2 334.7L590.4 337.7L590.2 338.0L587.1 342.6L586.6 343.4L584.3 349.2L584.0 350.1L582.9 354.9L582.3 360.7L582.3 366.4L582.8 372.1L583.8 377.9L584.0 378.9L585.2 383.6L587.1 389.2L587.1 389.4L589.7 395.1L590.2 395.9L593.2 400.8L593.3 400.8L596.3 404.2L599.4 406.5ZM599.6 389.4L602.4 391.6L605.5 393.2L608.6 394.0L611.6 394.3L614.7 394.2L617.8 393.7L620.8 393.0L623.9 391.9L627.0 390.6L629.3 389.4L630.0 388.9L633.1 386.8L636.2 384.3L636.9 383.6L639.2 380.9L641.6 377.9L642.3 376.7L644.7 372.1L645.4 370.3L646.7 366.4L647.7 360.7L648.3 354.9L648.4 350.5L648.5 349.2L648.8 343.4L649.7 337.7L651.5 333.6L652.4 332.0L654.6 329.8L657.6 327.4L659.5 326.2L660.7 325.7L663.8 324.4L666.8 323.2L669.9 322.2L673.0 321.3L675.6 320.5L676.0 320.4L679.1 319.5L682.2 318.6L685.2 317.4L688.3 316.1L690.7 314.7L691.4 314.3L694.4 312.2L697.5 309.4L697.9 309.0L700.6 305.8L702.3 303.3L703.6 301.0L705.5 297.5L706.7 294.6L707.8 291.8L709.6 286.0L709.8 285.3L710.9 280.3L711.8 274.6L712.3 268.8L712.4 263.1L712.1 257.3L711.1 251.6L709.8 247.0L709.4 245.9L706.7 240.5L706.5 240.1L703.6 236.6L701.0 234.4L700.6 234.0L697.5 232.3L694.4 231.2L691.4 230.4L688.3 230.0L685.2 229.8L682.2 229.7L679.1 229.8L676.0 230.0L673.0 230.4L669.9 230.9L666.8 231.6L663.8 232.6L660.7 233.7L659.4 234.4L657.6 235.2L654.6 237.0L651.5 239.1L650.3 240.1L648.4 241.7L645.4 244.8L644.5 245.9L642.3 248.6L640.2 251.6L639.2 253.3L637.0 257.3L636.2 259.3L634.6 263.1L633.1 267.7L632.7 268.8L631.4 274.6L630.5 280.3L630.0 284.7L629.9 286.0L629.6 291.8L629.6 297.5L629.6 303.3L629.6 309.0L629.1 314.7L627.4 320.5L627.0 321.2L623.9 325.6L623.3 326.2L620.8 328.5L617.8 330.9L616.4 332.0L614.7 333.1L611.6 335.2L608.6 337.3L608.0 337.7L605.5 339.5L602.4 341.8L600.5 343.4L599.4 344.6L596.3 348.2L595.6 349.2L593.2 353.8L592.7 354.9L591.4 360.7L591.0 366.4L591.5 372.1L592.9 377.9L593.2 378.8L595.3 383.6L596.3 385.2L599.4 389.2ZM610.7 377.9L611.6 378.3L614.7 379.0L617.8 379.0L620.8 378.5L622.5 377.9L623.9 377.2L627.0 375.1L630.0 372.3L630.2 372.1L633.1 366.9L633.3 366.4L634.5 360.7L634.0 354.9L633.1 352.4L631.1 349.2L630.0 348.2L627.0 347.0L623.9 346.9L620.8 347.5L617.8 348.5L616.5 349.2L614.7 350.2L611.6 352.5L608.8 354.9L608.6 355.2L605.5 360.0L605.2 360.7L604.1 366.4L605.2 372.1L605.5 372.6L608.6 376.3ZM654.2 314.7L654.6 314.8L657.6 314.8L657.8 314.7L660.7 314.5L663.8 314.2L666.8 313.8L669.9 313.3L673.0 312.8L676.0 312.2L679.1 311.4L682.2 310.5L685.2 309.2L685.8 309.0L688.3 307.7L691.4 305.6L694.1 303.3L694.4 302.9L697.5 299.3L698.7 297.5L700.6 294.2L701.7 291.8L703.6 286.6L703.9 286.0L705.3 280.3L706.1 274.6L706.4 268.8L706.2 263.1L705.2 257.3L703.6 252.4L703.4 251.6L700.6 246.7L700.0 245.9L697.5 243.3L694.4 241.0L692.9 240.1L691.4 239.4L688.3 238.3L685.2 237.6L682.2 237.1L679.1 236.9L676.0 236.9L673.0 237.1L669.9 237.5L666.8 238.2L663.8 239.2L661.6 240.1L660.7 240.5L657.6 242.2L654.6 244.2L652.6 245.9L651.5 246.8L648.4 250.0L647.1 251.6L645.4 254.1L643.3 257.3L642.3 259.3L640.6 263.1L639.2 266.9L638.6 268.8L637.3 274.6L636.6 280.3L636.4 286.0L636.8 291.8L637.8 297.5L639.2 302.6L639.5 303.3L642.3 308.7L642.5 309.0L645.4 312.0L648.4 313.7L651.5 314.5ZM653.7 303.3L654.6 303.7L657.6 304.7L660.7 305.3L663.8 305.5L666.8 305.5L669.9 305.3L673.0 304.9L676.0 304.4L679.1 303.6L680.0 303.3L682.2 302.5L685.2 300.9L688.3 298.9L690.0 297.5L691.4 296.1L694.4 292.2L694.7 291.8L697.5 286.1L697.5 286.0L699.2 280.3L700.1 274.6L700.1 268.8L699.4 263.1L697.6 257.3L697.5 257.2L694.4 252.2L693.9 251.6L691.4 249.2L688.3 247.1L685.8 245.9L685.2 245.6L682.2 244.7L679.1 244.1L676.0 243.9L673.0 243.9L669.9 244.3L666.8 244.9L664.2 245.9L663.8 246.0L660.7 247.6L657.6 249.5L655.1 251.6L654.6 252.1L651.5 255.5L650.1 257.3L648.4 260.1L646.8 263.1L645.4 266.8L644.6 268.8L643.4 274.6L642.9 280.3L643.3 286.0L644.5 291.8L645.4 293.8L647.3 297.5L648.4 299.1L651.5 301.9ZM654.6 291.8L657.6 294.2L660.7 295.8L663.8 296.6L666.8 297.1L669.9 297.1L673.0 296.7L676.0 296.1L679.1 295.0L682.2 293.5L684.7 291.8L685.2 291.3L688.3 287.8L689.6 286.0L691.4 282.0L692.0 280.3L693.0 274.6L692.8 268.8L691.4 263.3L691.3 263.1L688.3 258.2L687.6 257.3L685.2 255.3L682.2 253.4L679.1 252.2L676.5 251.6L676.0 251.5L673.0 251.3L670.0 251.6L669.9 251.6L666.8 252.4L663.8 253.8L660.7 255.7L658.6 257.3L657.6 258.4L654.6 262.3L654.0 263.1L651.5 268.5L651.4 268.8L650.1 274.6L650.0 280.3L651.2 286.0L651.5 286.7L654.6 291.7ZM666.1 286.0L666.8 286.3L669.9 286.6L673.0 286.3L674.0 286.0L676.0 285.1L679.1 282.8L681.4 280.3L682.2 278.3L683.3 274.6L682.6 268.8L682.2 268.0L679.1 264.0L678.1 263.1L676.0 262.1L673.0 261.5L669.9 261.6L666.8 262.5L665.9 263.1L663.8 264.9L660.7 268.7L660.6 268.8L659.2 274.6L660.0 280.3L660.7 281.4L663.8 284.7Z" stroke="#1D45FD" stroke-width="3.0" fill="none" stroke-linejoin="round" stroke-linecap="butt"/>
<g fill="#000" fill-opacity="0.2" stroke="#000" stroke-opacity="0.2" stroke-width="1.89">
<circle cx="633.8" cy="127.6" r="5.2"/>
<circle cx="696.6" cy="172.8" r="5.2"/>
<circle cx="742.6" cy="199.9" r="5.2"/>
<circle cx="704.5" cy="220.8" r="5.2"/>
<circle cx="703.4" cy="228.6" r="5.2"/>
<circle cx="701.4" cy="232.3" r="5.2"/>
<circle cx="639.4" cy="248.4" r="5.2"/>
<circle cx="664.9" cy="246.3" r="5.2"/>
<circle cx="667.0" cy="249.5" r="5.2"/>
<circle cx="688.6" cy="247.4" r="5.2"/>
<circle cx="726.4" cy="250.0" r="5.2"/>
<circle cx="723.2" cy="255.7" r="5.2"/>
<circle cx="709.2" cy="259.4" r="5.2"/>
<circle cx="648.8" cy="260.4" r="5.2"/>
<circle cx="668.0" cy="257.8" r="5.2"/>
<circle cx="664.4" cy="258.8" r="5.2"/>
<circle cx="636.2" cy="267.2" r="5.2"/>
<circle cx="681.0" cy="265.1" r="5.2"/>
<circle cx="679.5" cy="267.2" r="5.2"/>
<circle cx="667.5" cy="269.8" r="5.2"/>
<circle cx="655.0" cy="270.3" r="5.2"/>
<circle cx="652.9" cy="271.9" r="5.2"/>
<circle cx="690.9" cy="274.5" r="5.2"/>
<circle cx="645.6" cy="279.3" r="5.2"/>
<circle cx="680.0" cy="278.7" r="5.2"/>
<circle cx="686.2" cy="281.3" r="5.2"/>
<circle cx="661.2" cy="284.5" r="5.2"/>
<circle cx="658.1" cy="286.5" r="5.2"/>
<circle cx="711.2" cy="284.5" r="5.2"/>
<circle cx="655.0" cy="292.8" r="5.2"/>
<circle cx="693.5" cy="293.6" r="5.2"/>
<circle cx="639.9" cy="298.5" r="5.2"/>
<circle cx="672.5" cy="300.1" r="5.2"/>
<circle cx="648.2" cy="306.3" r="5.2"/>
<circle cx="708.1" cy="305.1" r="5.2"/>
<circle cx="689.4" cy="310.0" r="5.2"/>
<circle cx="694.6" cy="310.0" r="5.2"/>
<circle cx="606.9" cy="292.0" r="5.2"/>
<circle cx="627.2" cy="290.9" r="5.2"/>
<circle cx="620.4" cy="319.6" r="5.2"/>
<circle cx="577.2" cy="326.9" r="5.2"/>
<circle cx="645.9" cy="335.5" r="5.2"/>
<circle cx="594.4" cy="339.9" r="5.2"/>
<circle cx="584.5" cy="349.3" r="5.2"/>
<circle cx="581.4" cy="350.8" r="5.2"/>
<circle cx="613.1" cy="352.9" r="5.2"/>
<circle cx="632.9" cy="357.5" r="5.2"/>
<circle cx="636.0" cy="362.2" r="5.2"/>
<circle cx="626.7" cy="363.7" r="5.2"/>
<circle cx="610.2" cy="365.8" r="5.2"/>
<circle cx="645.9" cy="369.5" r="5.2"/>
<circle cx="655.8" cy="365.8" r="5.2"/>
<circle cx="665.7" cy="369.5" r="5.2"/>
<circle cx="601.7" cy="376.8" r="5.2"/>
<circle cx="599.6" cy="379.9" r="5.2"/>
<circle cx="604.8" cy="380.4" r="5.2"/>
<circle cx="596.5" cy="378.8" r="5.2"/>
<circle cx="634.5" cy="387.0" r="5.2"/>
<circle cx="657.6" cy="385.6" r="5.2"/>
<circle cx="579.6" cy="387.7" r="5.2"/>
<circle cx="631.9" cy="419.5" r="5.2"/>
<circle cx="589.7" cy="432.2" r="5.2"/>
<circle cx="588.9" cy="443.0" r="5.2"/>
<circle cx="603.5" cy="448.2" r="5.2"/>
<circle cx="614.4" cy="442.6" r="5.2"/>
<circle cx="590.0" cy="478.0" r="5.2"/>
<circle cx="685.8" cy="381.1" r="5.2"/>
<circle cx="634.6" cy="358.6" r="5.2"/>
</g>
<rect x="442.95" y="59.9" width="339.75" height="624.3000000000001" fill="none" stroke="#a6a6a6" stroke-width="2.85"/>
</g>
<rect x="442.95" y="15.0" width="339.75" height="44.9" fill="#a6a6a6"/>
<text transform="translate(612.83,46.05) scale(1.0,1.0)" text-anchor="middle" font-size="23.47" fill="#fff" stroke="#fff" stroke-width="0.12">Chinstrap</text>
<path d="M526.95 684.2v7.3" stroke="#a6a6a6" stroke-width="1.42"/>
<text transform="translate(527.35,713.60) scale(0.985,0.995)" text-anchor="middle" font-size="23.47" fill="#3b3b3b" stroke="#3b3b3b" stroke-width="0.25">15.0</text>
<path d="M617.33 684.2v7.3" stroke="#a6a6a6" stroke-width="1.42"/>
<text transform="translate(618.03,713.60) scale(0.985,0.995)" text-anchor="middle" font-size="23.47" fill="#3b3b3b" stroke="#3b3b3b" stroke-width="0.25">17.5</text>
<path d="M707.70 684.2v7.3" stroke="#a6a6a6" stroke-width="1.42"/>
<text transform="translate(707.20,713.60) scale(0.985,0.995)" text-anchor="middle" font-size="23.47" fill="#3b3b3b" stroke="#3b3b3b" stroke-width="0.25">20.0</text>
<clipPath id="c2"><rect x="797.6" y="59.9" width="339.75" height="624.3000000000001"/></clipPath>
<g clip-path="url(#c2)">
<path d="M836.41 59.9V684.2M926.79 59.9V684.2M1017.16 59.9V684.2M1107.54 59.9V684.2M797.6 599.23H1137.35M797.6 392.57H1137.35M797.6 185.92H1137.35" stroke="#d7d7d7" stroke-width="0.71" fill="none"/>
<path d="M881.60 59.9V684.2M971.98 59.9V684.2M1062.35 59.9V684.2M797.6 495.90H1137.35M797.6 289.25H1137.35M797.6 82.60H1137.35" stroke="#d7d7d7" stroke-width="1.42" fill="none"/>
<path d="M812.9 469.8L816.0 475.2L816.1 475.5L819.0 479.7L820.4 481.2L822.1 483.3L825.2 486.0L826.8 486.9L828.3 487.9L831.3 489.0L834.4 489.4L837.5 489.1L840.5 488.1L842.9 486.9L843.6 486.6L846.7 485.1L849.7 483.3L852.8 481.4L853.2 481.2L855.9 479.9L858.9 478.5L862.0 477.0L864.9 475.5L865.1 475.4L868.1 473.7L871.2 471.4L873.0 469.7L874.3 468.5L877.3 464.9L878.0 464.0L880.4 460.6L881.9 458.2L883.5 455.8L885.6 452.5L886.5 451.0L889.5 446.8L889.6 446.6L892.7 442.9L894.3 441.0L895.7 439.6L898.8 436.7L900.3 435.3L901.9 434.0L904.9 431.5L907.2 429.5L908.0 428.9L911.1 426.3L913.7 423.8L914.1 423.4L917.2 420.5L919.4 418.1L920.3 417.1L923.3 413.6L924.3 412.3L926.4 409.6L928.6 406.6L929.5 405.1L932.0 400.8L932.5 399.7L934.6 395.1L935.6 391.9L936.4 389.4L937.5 383.6L938.2 377.9L938.7 372.6L938.7 372.1L939.4 366.4L940.2 360.7L941.3 354.9L941.7 353.0L942.7 349.2L944.4 343.4L944.8 342.1L946.3 337.7L947.9 332.8L948.2 332.0L950.2 326.2L950.9 323.9L952.2 320.5L954.0 315.1L954.1 314.7L956.3 309.0L957.1 306.9L958.6 303.3L960.1 299.4L961.0 297.5L963.2 292.5L963.6 291.8L966.0 286.0L966.3 285.3L968.1 280.3L969.3 275.8L969.7 274.6L970.7 268.8L971.2 263.1L971.2 257.3L970.8 251.6L969.8 245.9L969.3 244.2L968.2 240.1L966.3 235.3L965.8 234.4L963.2 230.1L962.0 228.6L960.1 226.6L957.1 224.4L954.0 223.2L952.2 222.9L950.9 222.6L947.9 222.5L944.8 222.4L941.7 222.1L938.7 221.2L935.6 219.6L932.6 217.2L932.5 217.0L929.5 211.9L929.3 211.4L927.5 205.7L926.4 201.0L926.2 199.9L924.9 194.2L923.3 188.6L923.3 188.5L920.4 182.7L920.3 182.4L917.2 179.5L914.1 178.2L911.1 178.4L908.0 179.9L904.9 182.7L904.9 182.7L901.9 187.1L901.2 188.5L898.8 193.6L898.6 194.2L896.7 199.9L895.7 203.2L895.0 205.7L893.5 211.4L892.7 214.4L891.9 217.2L889.7 222.9L889.6 223.1L886.7 228.6L886.5 228.8L883.5 232.7L882.1 234.4L880.4 235.9L877.3 238.6L875.5 240.1L874.3 240.9L871.2 242.9L868.1 244.7L866.1 245.9L865.1 246.3L862.0 247.7L858.9 249.1L855.9 250.8L854.7 251.6L852.8 252.9L849.7 255.7L848.4 257.3L846.7 259.6L844.6 263.1L843.6 265.0L841.8 268.8L840.5 271.9L839.5 274.6L837.5 279.8L837.3 280.3L835.1 286.0L834.4 287.7L832.8 291.8L831.3 295.4L830.4 297.5L828.3 302.8L828.1 303.3L825.5 309.0L825.2 309.8L822.9 314.7L822.1 316.5L820.3 320.5L819.0 323.2L817.6 326.2L816.0 330.0L815.1 332.0L812.9 337.2M812.9 441.3L814.2 446.8L816.0 452.0L816.2 452.5L818.7 458.2L819.0 458.8L822.1 463.8L822.3 464.0L825.2 467.4L828.0 469.7L828.3 469.9L831.3 471.5L834.4 472.2L837.5 472.2L840.5 471.5L843.6 470.4L845.0 469.7L846.7 469.0L849.7 467.6L852.8 466.0L855.9 464.3L856.4 464.0L858.9 462.6L862.0 460.6L865.0 458.2L865.1 458.2L868.1 455.4L870.7 452.5L871.2 451.9L874.3 447.8L874.9 446.8L877.3 443.2L878.8 441.0L880.4 438.6L882.6 435.3L883.5 434.1L886.5 430.1L887.0 429.5L889.6 426.7L892.3 423.8L892.7 423.5L895.7 420.8L898.8 418.1L898.9 418.1L901.9 415.7L904.9 413.1L905.8 412.3L908.0 410.4L911.1 407.2L911.6 406.6L914.1 403.5L916.0 400.8L917.2 399.0L919.5 395.1L920.3 393.4L922.1 389.4L923.3 385.9L924.1 383.6L925.7 377.9L926.4 374.8L927.0 372.1L928.3 366.4L929.5 361.6L929.7 360.7L931.4 354.9L932.5 351.7L933.4 349.2L935.6 343.4L935.6 343.3L937.9 337.7L938.7 335.6L940.1 332.0L941.7 327.2L942.1 326.2L944.0 320.5L944.8 317.7L945.7 314.7L947.2 309.0L947.9 306.2L948.7 303.3L950.0 297.5L950.9 292.4L951.1 291.8L952.3 286.0L953.3 280.3L954.0 275.2L954.1 274.6L954.8 268.8L954.8 263.1L954.0 257.3L954.0 257.2L951.7 251.6L950.9 250.6L947.9 247.3L946.1 245.9L944.8 245.0L941.7 243.2L938.7 241.5L936.1 240.1L935.6 239.9L932.5 238.1L929.5 236.3L926.4 234.6L926.1 234.4L923.3 232.4L920.3 230.2L917.8 228.6L917.2 228.1L914.1 225.9L911.1 224.8L908.0 225.3L904.9 227.5L904.0 228.6L901.9 230.5L898.8 234.1L898.6 234.4L895.7 237.2L893.0 240.1L892.7 240.4L889.6 242.9L886.5 245.6L886.2 245.9L883.5 247.8L880.4 250.2L878.6 251.6L877.3 252.5L874.3 254.8L871.2 257.3L871.2 257.3L868.1 259.7L865.1 262.1L863.9 263.1L862.0 264.6L858.9 267.2L857.3 268.8L855.9 270.2L852.8 273.8L852.2 274.6L849.7 278.0L848.3 280.3L846.7 283.0L845.1 286.0L843.6 288.7L842.1 291.8L840.5 294.9L839.3 297.5L837.5 301.4L836.6 303.3L834.4 308.1L834.0 309.0L831.4 314.7L831.3 314.9L828.8 320.5L828.3 321.8L826.2 326.2L825.2 328.7L823.7 332.0L822.1 335.8L821.3 337.7L819.0 343.4L819.0 343.4L816.9 349.2L816.0 352.1L815.1 354.9L813.6 360.7L812.9 363.9M831.6 458.2L834.4 459.4L837.5 459.9L840.5 459.6L843.6 458.9L845.3 458.2L846.7 457.8L849.7 456.5L852.8 454.9L855.9 453.1L856.7 452.5L858.9 451.0L862.0 448.5L863.8 446.8L865.1 445.5L868.1 442.0L868.9 441.0L871.2 438.0L873.0 435.3L874.3 433.6L877.0 429.5L877.3 429.1L880.4 424.8L881.1 423.8L883.5 420.8L885.6 418.1L886.5 417.0L889.6 413.6L890.8 412.3L892.7 410.4L895.7 407.5L896.7 406.6L898.8 404.6L901.9 401.7L902.7 400.8L904.9 398.5L907.7 395.1L908.0 394.7L911.1 390.1L911.5 389.4L914.1 384.0L914.3 383.6L916.5 377.9L917.2 375.6L918.3 372.1L919.9 366.4L920.3 365.0L921.5 360.7L923.3 355.3L923.5 354.9L925.8 349.2L926.4 348.0L928.5 343.4L929.5 341.7L931.4 337.7L932.5 335.3L934.1 332.0L935.6 328.3L936.4 326.2L938.5 320.5L938.7 319.9L940.3 314.7L941.7 309.0L941.7 308.6L942.9 303.3L943.8 297.5L944.4 291.8L944.8 286.0L944.8 285.0L944.9 280.3L944.8 279.1L944.6 274.6L943.7 268.8L941.9 263.1L941.7 262.8L938.7 257.3L938.7 257.3L935.6 253.6L933.4 251.6L932.5 250.8L929.5 248.6L926.4 246.8L924.4 245.9L923.3 245.3L920.3 244.0L917.2 243.1L914.1 242.6L911.1 242.6L908.0 243.1L904.9 244.3L902.0 245.9L901.9 245.9L898.8 247.5L895.7 249.4L892.7 251.5L892.5 251.6L889.6 253.4L886.5 255.4L883.8 257.3L883.5 257.6L880.4 259.8L877.3 262.3L876.4 263.1L874.3 264.9L871.2 267.8L870.1 268.8L868.1 270.7L865.1 273.8L864.4 274.6L862.0 277.0L859.0 280.3L858.9 280.4L855.9 283.9L854.2 286.0L852.8 287.8L850.1 291.8L849.7 292.3L846.7 297.2L846.5 297.5L843.6 302.6L843.3 303.3L840.5 308.5L840.3 309.0L837.5 314.7L837.5 314.8L834.8 320.5L834.4 321.5L832.3 326.2L831.3 328.4L829.8 332.0L828.3 335.6L827.3 337.7L825.2 343.1L825.0 343.4L822.8 349.2L822.1 351.4L820.9 354.9L819.3 360.7L819.0 361.8L818.0 366.4L817.0 372.1L816.3 377.9L816.0 382.4L815.9 383.6L815.7 389.4L815.6 395.1L815.7 400.8L815.9 406.6L816.0 407.8L816.2 412.3L816.5 418.1L817.0 423.8L817.7 429.5L818.7 435.3L819.0 436.6L820.2 441.0L822.1 446.3L822.3 446.8L825.2 452.0L825.5 452.5L828.3 455.8L831.3 458.1ZM832.9 446.8L834.4 447.8L837.5 449.0L840.5 449.3L843.6 449.0L846.7 448.1L849.7 446.9L850.0 446.8L852.8 445.3L855.9 443.4L858.9 441.0L858.9 441.0L862.0 438.2L864.7 435.3L865.1 434.8L868.1 431.1L869.3 429.5L871.2 427.1L873.5 423.8L874.3 422.8L877.3 418.7L877.8 418.1L880.4 414.6L882.1 412.3L883.5 410.6L886.5 406.8L886.7 406.6L889.6 403.2L891.6 400.8L892.7 399.6L895.7 396.2L896.7 395.1L898.8 392.7L901.5 389.4L901.9 388.8L904.9 384.2L905.3 383.6L908.0 378.4L908.3 377.9L910.5 372.1L911.1 370.6L912.5 366.4L914.1 361.0L914.2 360.7L916.2 354.9L917.2 352.5L918.6 349.2L920.3 346.1L921.6 343.4L923.3 340.7L925.1 337.7L926.4 335.7L928.5 332.0L929.5 330.2L931.4 326.2L932.5 323.7L933.8 320.5L935.6 315.3L935.8 314.7L937.3 309.0L938.4 303.3L938.7 301.2L939.2 297.5L939.6 291.8L939.6 286.0L939.2 280.3L938.7 277.2L938.2 274.6L936.4 268.8L935.6 267.1L933.4 263.1L932.5 262.0L929.5 258.6L928.0 257.3L926.4 256.1L923.3 254.3L920.3 253.1L917.2 252.4L914.1 252.1L911.1 252.2L908.0 252.8L904.9 253.7L901.9 255.0L898.8 256.5L897.2 257.3L895.7 258.1L892.7 259.7L889.6 261.5L887.1 263.1L886.5 263.4L883.5 265.5L880.4 267.9L879.4 268.8L877.3 270.6L874.3 273.6L873.4 274.6L871.2 276.9L868.2 280.3L868.1 280.3L865.1 283.8L863.1 286.0L862.0 287.3L858.9 290.9L858.2 291.8L855.9 294.6L853.6 297.5L852.8 298.6L849.7 303.0L849.6 303.3L846.7 307.9L846.0 309.0L843.6 313.3L842.8 314.7L840.5 319.3L840.0 320.5L837.5 325.9L837.3 326.2L834.8 332.0L834.4 332.8L832.3 337.7L831.3 340.2L830.0 343.4L828.3 348.0L827.8 349.2L825.8 354.9L825.2 357.0L824.1 360.7L822.7 366.4L822.1 369.4L821.6 372.1L820.8 377.9L820.4 383.6L820.2 389.4L820.2 395.1L820.4 400.8L820.7 406.6L821.2 412.3L821.8 418.1L822.1 420.3L822.6 423.8L823.8 429.5L825.2 434.5L825.4 435.3L828.0 441.0L828.3 441.5L831.3 445.5ZM834.1 435.3L834.4 435.7L837.5 438.0L840.5 439.1L843.6 439.3L846.7 438.8L849.7 437.8L852.8 436.3L854.3 435.3L855.9 434.2L858.9 431.8L861.3 429.5L862.0 428.9L865.1 425.6L866.5 423.8L868.1 421.9L871.2 418.1L871.2 418.1L874.3 414.2L875.7 412.3L877.3 410.2L880.0 406.6L880.4 406.0L883.5 401.9L884.3 400.8L886.5 397.8L888.6 395.1L889.6 393.8L892.7 389.7L892.9 389.4L895.7 385.4L897.0 383.6L898.8 380.8L900.5 377.9L901.9 375.2L903.4 372.1L904.9 368.1L905.6 366.4L907.5 360.7L908.0 359.1L909.3 354.9L911.1 350.2L911.5 349.2L914.1 343.7L914.3 343.4L917.2 339.1L918.1 337.7L920.3 335.0L922.4 332.0L923.3 330.8L926.3 326.2L926.4 326.1L929.3 320.5L929.5 320.2L931.6 314.7L932.5 311.8L933.3 309.0L934.5 303.3L935.2 297.5L935.5 291.8L935.2 286.0L934.4 280.3L932.8 274.6L932.5 274.0L929.9 268.8L929.5 268.2L926.4 264.6L924.5 263.1L923.3 262.2L920.3 260.7L917.2 259.8L914.1 259.5L911.1 259.7L908.0 260.3L904.9 261.3L901.9 262.5L900.7 263.1L898.8 264.0L895.7 265.5L892.7 267.1L889.7 268.8L889.6 268.9L886.5 270.8L883.5 273.0L881.6 274.6L880.4 275.6L877.3 278.6L875.8 280.3L874.3 282.0L871.2 285.5L870.8 286.0L868.1 289.2L866.0 291.8L865.1 292.9L862.0 296.5L861.1 297.5L858.9 300.1L856.3 303.3L855.9 303.8L852.8 307.7L851.9 309.0L849.7 312.2L848.1 314.7L846.7 317.2L844.9 320.5L843.6 322.9L841.9 326.2L840.5 329.2L839.3 332.0L837.5 336.2L836.8 337.7L834.5 343.4L834.4 343.6L832.2 349.2L831.3 351.8L830.2 354.9L828.4 360.7L828.3 361.3L826.9 366.4L825.8 372.1L825.2 376.4L825.0 377.9L824.5 383.6L824.3 389.4L824.4 395.1L824.8 400.8L825.2 405.2L825.3 406.6L826.1 412.3L827.1 418.1L828.3 423.1L828.4 423.8L830.5 429.5L831.3 431.2ZM836.0 423.8L837.5 425.8L840.5 428.2L843.6 429.3L846.7 429.3L849.7 428.5L852.8 427.2L855.9 425.4L857.9 423.8L858.9 423.0L862.0 420.4L864.2 418.1L865.1 417.3L868.1 414.0L869.5 412.3L871.2 410.4L874.2 406.6L874.3 406.5L877.3 402.5L878.6 400.8L880.4 398.3L882.6 395.1L883.5 393.8L886.5 389.4L886.5 389.3L889.6 384.5L890.2 383.6L892.7 379.5L893.7 377.9L895.7 374.0L896.7 372.1L898.8 367.3L899.2 366.4L901.2 360.7L901.9 358.5L903.0 354.9L904.7 349.2L904.9 348.6L906.9 343.4L908.0 341.1L909.9 337.7L911.1 336.2L914.1 332.6L914.6 332.0L917.2 329.4L920.1 326.2L920.3 326.0L923.3 322.1L924.3 320.5L926.4 316.7L927.3 314.7L929.4 309.0L929.5 308.7L930.7 303.3L931.4 297.5L931.5 291.8L931.0 286.0L929.7 280.3L929.5 279.7L927.1 274.6L926.4 273.5L923.3 270.0L921.7 268.8L920.3 267.9L917.2 266.8L914.1 266.4L911.1 266.5L908.0 267.2L904.9 268.3L903.6 268.8L901.9 269.6L898.8 271.1L895.7 272.7L892.7 274.4L892.3 274.6L889.6 276.2L886.5 278.3L883.9 280.3L883.5 280.7L880.4 283.5L878.0 286.0L877.3 286.8L874.3 290.4L873.1 291.8L871.2 294.2L868.5 297.5L868.1 298.0L865.1 301.6L863.6 303.3L862.0 305.1L858.9 308.5L858.5 309.0L855.9 312.2L853.9 314.7L852.8 316.2L849.9 320.5L849.7 320.8L846.7 326.1L846.6 326.2L843.7 332.0L843.6 332.1L841.0 337.7L840.5 338.9L838.6 343.4L837.5 346.5L836.4 349.2L834.4 354.8L834.4 354.9L832.5 360.7L831.3 365.2L831.0 366.4L829.8 372.1L829.0 377.9L828.5 383.6L828.4 389.4L828.7 395.1L829.2 400.8L830.1 406.6L831.3 412.3L831.3 412.5L833.1 418.1L834.4 421.1ZM843.4 418.1L843.6 418.2L846.7 419.1L849.7 419.0L852.8 418.1L852.9 418.1L855.9 416.7L858.9 414.8L862.0 412.5L862.2 412.3L865.1 409.8L868.1 406.7L868.2 406.6L871.2 403.3L873.2 400.8L874.3 399.4L877.3 395.2L877.4 395.1L880.4 390.6L881.2 389.4L883.5 385.6L884.6 383.6L886.5 380.2L887.8 377.9L889.6 374.3L890.7 372.1L892.7 367.6L893.2 366.4L895.3 360.7L895.7 359.2L897.0 354.9L898.5 349.2L898.8 348.0L900.0 343.4L901.8 337.7L901.9 337.6L904.7 332.0L904.9 331.6L908.0 328.0L910.1 326.2L911.1 325.5L914.1 323.2L917.2 320.7L917.5 320.5L920.3 317.4L922.1 314.7L923.3 312.7L925.0 309.0L926.4 304.4L926.7 303.3L927.4 297.5L927.4 291.8L926.5 286.0L926.4 285.6L924.3 280.3L923.3 278.8L920.3 275.6L918.6 274.6L917.2 273.9L914.1 273.3L911.1 273.4L908.0 274.2L907.1 274.6L904.9 275.5L901.9 277.1L898.8 278.8L896.2 280.3L895.7 280.6L892.7 282.5L889.6 284.5L887.3 286.0L886.5 286.6L883.5 289.3L880.9 291.8L880.4 292.3L877.3 295.8L875.9 297.5L874.3 299.5L871.2 303.2L871.1 303.3L868.1 306.8L866.1 309.0L865.1 310.1L862.0 313.4L860.8 314.7L858.9 316.7L855.9 320.3L855.7 320.5L852.8 324.5L851.6 326.2L849.7 329.3L848.2 332.0L846.7 334.9L845.3 337.7L843.6 341.5L842.8 343.4L840.5 349.1L840.5 349.2L838.4 354.9L837.5 357.9L836.6 360.7L835.0 366.4L834.4 369.5L833.8 372.1L833.0 377.9L832.7 383.6L832.7 389.4L833.2 395.1L834.1 400.8L834.4 402.1L835.7 406.6L837.5 411.2L838.1 412.3L840.5 415.8ZM844.4 406.6L846.7 408.2L849.7 409.1L852.8 409.1L855.9 408.3L858.9 406.9L859.5 406.6L862.0 405.1L865.1 402.7L867.0 400.8L868.1 399.8L871.2 396.3L872.2 395.1L874.3 392.3L876.2 389.4L877.3 387.6L879.7 383.6L880.4 382.3L882.7 377.9L883.5 376.2L885.4 372.1L886.5 369.2L887.7 366.4L889.6 360.7L889.6 360.7L891.2 354.9L892.5 349.2L892.7 348.2L893.6 343.4L894.6 337.7L895.7 332.3L895.8 332.0L897.5 326.2L898.8 323.4L900.8 320.5L901.9 319.3L904.9 317.4L908.0 316.2L911.1 315.2L912.0 314.7L914.1 313.6L917.2 311.0L918.8 309.0L920.3 306.4L921.5 303.3L922.6 297.5L922.3 291.8L920.5 286.0L920.3 285.7L917.2 282.7L914.1 281.4L911.1 281.6L908.0 282.7L904.9 284.4L902.4 286.0L901.9 286.6L898.8 289.2L895.7 291.4L895.1 291.8L892.7 293.7L889.6 295.7L886.8 297.5L886.5 297.7L883.5 300.4L880.4 303.2L880.3 303.3L877.3 306.5L875.0 309.0L874.3 309.8L871.2 313.0L869.4 314.7L868.1 316.0L865.1 318.9L863.4 320.5L862.0 321.8L858.9 325.0L857.9 326.2L855.9 328.6L853.4 332.0L852.8 332.9L849.9 337.7L849.7 338.1L847.1 343.4L846.7 344.4L844.6 349.2L843.6 352.0L842.5 354.9L840.7 360.7L840.5 361.3L839.2 366.4L838.0 372.1L837.5 376.9L837.3 377.9L837.1 383.6L837.5 389.4L837.5 389.4L838.5 395.1L840.4 400.8L840.5 401.2L843.6 405.9ZM846.0 395.1L846.7 396.0L849.7 398.6L852.8 399.8L855.9 399.8L858.9 399.1L862.0 397.6L865.1 395.5L865.5 395.1L868.1 392.6L870.9 389.4L871.2 389.0L874.3 384.4L874.8 383.6L877.3 378.8L877.8 377.9L880.3 372.1L880.4 371.9L882.4 366.4L883.5 362.6L884.0 360.7L885.3 354.9L886.3 349.2L886.5 346.5L886.8 343.4L887.1 337.7L887.1 332.0L886.6 326.2L886.5 325.9L884.3 320.5L883.5 319.7L880.4 319.3L877.3 320.3L877.0 320.5L874.3 322.0L871.2 323.9L868.1 325.9L867.7 326.2L865.1 328.1L862.0 330.6L860.6 332.0L858.9 333.6L855.9 337.3L855.6 337.7L852.8 342.0L852.0 343.4L849.7 347.9L849.1 349.2L846.9 354.9L846.7 355.5L845.0 360.7L843.6 366.3L843.6 366.4L842.6 372.1L842.2 377.9L842.4 383.6L843.4 389.4L843.6 389.9ZM853.2 389.4L855.9 390.5L858.9 390.6L862.0 389.7L862.5 389.4L865.1 387.6L868.1 384.5L868.9 383.6L871.2 380.1L872.5 377.9L874.3 374.0L875.1 372.1L876.9 366.4L877.3 364.5L878.2 360.7L878.9 354.9L878.9 349.2L878.1 343.4L877.3 341.4L874.5 337.7L874.3 337.5L871.2 336.7L868.1 337.1L866.7 337.7L865.1 338.3L862.0 340.4L858.9 343.2L858.7 343.4L855.9 347.3L854.7 349.2L852.8 352.9L851.9 354.9L849.9 360.7L849.7 361.3L848.5 366.4L847.8 372.1L847.9 377.9L849.1 383.6L849.7 385.0L852.8 389.1ZM857.4 377.9L858.9 379.0L862.0 378.9L863.7 377.9L865.1 376.8L868.1 372.4L868.2 372.1L870.1 366.4L870.8 360.7L869.7 354.9L868.1 352.7L865.1 351.6L862.0 352.9L859.9 354.9L858.9 356.1L856.6 360.7L855.9 363.1L855.1 366.4L855.0 372.1L855.9 375.4Z" stroke="#1D45FD" stroke-width="3.0" fill="none" stroke-linejoin="round" stroke-linecap="butt"/>
<g fill="#000" fill-opacity="0.2" stroke="#000" stroke-opacity="0.2" stroke-width="1.89">
<circle cx="946.8" cy="88.3" r="5.2"/>
<circle cx="951.9" cy="169.0" r="5.2"/>
<circle cx="917.1" cy="182.2" r="5.2"/>
<circle cx="903.3" cy="201.4" r="5.2"/>
<circle cx="903.9" cy="216.9" r="5.2"/>
<circle cx="902.5" cy="234.3" r="5.2"/>
<circle cx="952.8" cy="240.4" r="5.2"/>
<circle cx="955.4" cy="242.0" r="5.2"/>
<circle cx="931.5" cy="257.6" r="5.2"/>
<circle cx="934.6" cy="264.4" r="5.2"/>
<circle cx="940.3" cy="264.9" r="5.2"/>
<circle cx="959.1" cy="276.3" r="5.2"/>
<circle cx="919.0" cy="280.5" r="5.2"/>
<circle cx="932.5" cy="290.4" r="5.2"/>
<circle cx="943.4" cy="292.0" r="5.2"/>
<circle cx="911.7" cy="289.4" r="5.2"/>
<circle cx="915.8" cy="294.1" r="5.2"/>
<circle cx="917.9" cy="297.2" r="5.2"/>
<circle cx="899.7" cy="299.8" r="5.2"/>
<circle cx="910.1" cy="302.9" r="5.2"/>
<circle cx="852.3" cy="264.8" r="5.2"/>
<circle cx="875.0" cy="275.2" r="5.2"/>
<circle cx="860.4" cy="286.1" r="5.2"/>
<circle cx="875.5" cy="286.1" r="5.2"/>
<circle cx="893.2" cy="278.3" r="5.2"/>
<circle cx="896.4" cy="282.0" r="5.2"/>
<circle cx="905.2" cy="275.7" r="5.2"/>
<circle cx="908.3" cy="277.3" r="5.2"/>
<circle cx="888.5" cy="289.3" r="5.2"/>
<circle cx="885.4" cy="292.4" r="5.2"/>
<circle cx="881.2" cy="294.5" r="5.2"/>
<circle cx="894.3" cy="309.1" r="5.2"/>
<circle cx="860.4" cy="307.0" r="5.2"/>
<circle cx="872.4" cy="309.6" r="5.2"/>
<circle cx="883.3" cy="311.1" r="5.2"/>
<circle cx="886.5" cy="314.3" r="5.2"/>
<circle cx="890.6" cy="313.2" r="5.2"/>
<circle cx="905.2" cy="316.3" r="5.2"/>
<circle cx="851.0" cy="315.3" r="5.2"/>
<circle cx="847.9" cy="318.4" r="5.2"/>
<circle cx="867.7" cy="319.5" r="5.2"/>
<circle cx="905.2" cy="325.6" r="5.2"/>
<circle cx="889.6" cy="327.7" r="5.2"/>
<circle cx="864.6" cy="335.5" r="5.2"/>
<circle cx="882.3" cy="335.5" r="5.2"/>
<circle cx="878.6" cy="336.5" r="5.2"/>
<circle cx="863.5" cy="345.4" r="5.2"/>
<circle cx="872.9" cy="351.1" r="5.2"/>
<circle cx="879.2" cy="344.9" r="5.2"/>
<circle cx="897.9" cy="342.8" r="5.2"/>
<circle cx="906.2" cy="344.9" r="5.2"/>
<circle cx="917.7" cy="352.2" r="5.2"/>
<circle cx="838.5" cy="344.4" r="5.2"/>
<circle cx="841.7" cy="345.9" r="5.2"/>
<circle cx="833.3" cy="358.4" r="5.2"/>
<circle cx="819.3" cy="368.8" r="5.2"/>
<circle cx="900.0" cy="359.5" r="5.2"/>
<circle cx="903.1" cy="361.5" r="5.2"/>
<circle cx="862.5" cy="364.7" r="5.2"/>
<circle cx="866.7" cy="363.6" r="5.2"/>
<circle cx="856.2" cy="373.0" r="5.2"/>
<circle cx="878.1" cy="363.6" r="5.2"/>
<circle cx="842.7" cy="372.0" r="5.2"/>
<circle cx="852.1" cy="358.4" r="5.2"/>
<circle cx="856.2" cy="339.7" r="5.2"/>
<circle cx="907.3" cy="384.7" r="5.2"/>
<circle cx="897.4" cy="394.1" r="5.2"/>
<circle cx="904.2" cy="401.9" r="5.2"/>
<circle cx="885.4" cy="381.0" r="5.2"/>
<circle cx="834.4" cy="385.7" r="5.2"/>
<circle cx="837.5" cy="387.8" r="5.2"/>
<circle cx="863.5" cy="385.2" r="5.2"/>
<circle cx="866.7" cy="389.9" r="5.2"/>
<circle cx="853.6" cy="393.5" r="5.2"/>
<circle cx="852.1" cy="402.4" r="5.2"/>
<circle cx="870.3" cy="400.3" r="5.2"/>
<circle cx="822.4" cy="398.2" r="5.2"/>
<circle cx="836.5" cy="397.7" r="5.2"/>
<circle cx="830.2" cy="412.3" r="5.2"/>
<circle cx="838.0" cy="419.1" r="5.2"/>
<circle cx="841.1" cy="424.8" r="5.2"/>
<circle cx="843.8" cy="424.8" r="5.2"/>
<circle cx="822.4" cy="423.7" r="5.2"/>
<circle cx="856.8" cy="422.7" r="5.2"/>
<circle cx="859.9" cy="426.3" r="5.2"/>
<circle cx="858.3" cy="435.7" r="5.2"/>
<circle cx="813.5" cy="435.7" r="5.2"/>
<circle cx="834.4" cy="440.4" r="5.2"/>
<circle cx="839.6" cy="442.0" r="5.2"/>
<circle cx="895.6" cy="426.3" r="5.2"/>
<circle cx="830.5" cy="457.8" r="5.2"/>
<circle cx="876.9" cy="457.4" r="5.2"/>
<circle cx="841.7" cy="474.3" r="5.2"/>
<circle cx="925.8" cy="309.9" r="5.2"/>
<circle cx="927.9" cy="314.1" r="5.2"/>
<circle cx="921.7" cy="322.4" r="5.2"/>
<circle cx="931.0" cy="326.5" r="5.2"/>
<circle cx="906.0" cy="362.0" r="5.2"/>
<circle cx="930.0" cy="387.2" r="5.2"/>
<circle cx="958.1" cy="404.7" r="5.2"/>
<circle cx="898.0" cy="358.8" r="5.2"/>
<circle cx="833.5" cy="384.8" r="5.2"/>
<circle cx="867.0" cy="380.3" r="5.2"/>
<circle cx="866.0" cy="365.3" r="5.2"/>
<circle cx="880.5" cy="370.0" r="5.2"/>
<circle cx="853.3" cy="326.4" r="5.2"/>
<circle cx="866.3" cy="390.1" r="5.2"/>
<circle cx="839.5" cy="383.5" r="5.2"/>
<circle cx="916.0" cy="279.3" r="5.2"/>
<circle cx="858.8" cy="426.1" r="5.2"/>
<circle cx="836.8" cy="386.6" r="5.2"/>
<circle cx="878.0" cy="368.5" r="5.2"/>
<circle cx="840.0" cy="381.8" r="5.2"/>
<circle cx="857.5" cy="370.8" r="5.2"/>
<circle cx="919.5" cy="297.8" r="5.2"/>
<circle cx="880.5" cy="363.9" r="5.2"/>
<circle cx="847.0" cy="344.6" r="5.2"/>
<circle cx="865.0" cy="386.3" r="5.2"/>
<circle cx="917.0" cy="295.8" r="5.2"/>
<circle cx="856.4" cy="320.2" r="5.2"/>
<circle cx="884.5" cy="316.8" r="5.2"/>
<circle cx="857.7" cy="352.5" r="5.2"/>
<circle cx="868.5" cy="391.3" r="5.2"/>
<circle cx="918.5" cy="293.3" r="5.2"/>
</g>
<rect x="797.6" y="59.9" width="339.75" height="624.3000000000001" fill="none" stroke="#a6a6a6" stroke-width="2.85"/>
</g>
<rect x="797.6" y="15.0" width="339.75" height="44.9" fill="#a6a6a6"/>
<text transform="translate(967.48,46.05) scale(1.0,1.0)" text-anchor="middle" font-size="23.47" fill="#fff" stroke="#fff" stroke-width="0.12">Gentoo</text>
<path d="M881.60 684.2v7.3" stroke="#a6a6a6" stroke-width="1.42"/>
<text transform="translate(882.00,713.60) scale(0.985,0.995)" text-anchor="middle" font-size="23.47" fill="#3b3b3b" stroke="#3b3b3b" stroke-width="0.25">15.0</text>
<path d="M971.98 684.2v7.3" stroke="#a6a6a6" stroke-width="1.42"/>
<text transform="translate(972.68,713.60) scale(0.985,0.995)" text-anchor="middle" font-size="23.47" fill="#3b3b3b" stroke="#3b3b3b" stroke-width="0.25">17.5</text>
<path d="M1062.35 684.2v7.3" stroke="#a6a6a6" stroke-width="1.42"/>
<text transform="translate(1061.85,713.60) scale(0.985,0.995)" text-anchor="middle" font-size="23.47" fill="#3b3b3b" stroke="#3b3b3b" stroke-width="0.25">20.0</text>
<path d="M88.3 495.90h-7.3" stroke="#a6a6a6" stroke-width="1.42"/>
<text transform="translate(74.90,504.75) scale(0.985,0.995)" text-anchor="end" font-size="23.47" fill="#3b3b3b" stroke="#3b3b3b" stroke-width="0.25">40</text>
<path d="M88.3 289.25h-7.3" stroke="#a6a6a6" stroke-width="1.42"/>
<text transform="translate(74.90,298.10) scale(0.985,0.995)" text-anchor="end" font-size="23.47" fill="#3b3b3b" stroke="#3b3b3b" stroke-width="0.25">50</text>
<path d="M88.3 82.60h-7.3" stroke="#a6a6a6" stroke-width="1.42"/>
<text transform="translate(74.90,91.45) scale(0.985,0.995)" text-anchor="end" font-size="23.47" fill="#3b3b3b" stroke="#3b3b3b" stroke-width="0.25">60</text>
<text transform="translate(613.10,747.70) scale(1.008,0.995)" text-anchor="middle" font-size="29.33" fill="#000" stroke="#000" stroke-width="0.35">Bill Depth (mm)</text>
<text transform="translate(36.00,372.25) rotate(-90) scale(1.002,0.995)" text-anchor="middle" font-size="29.33" fill="#000" stroke="#000" stroke-width="0.35">Bill Length (mm)</text>
</svg></body></html>
